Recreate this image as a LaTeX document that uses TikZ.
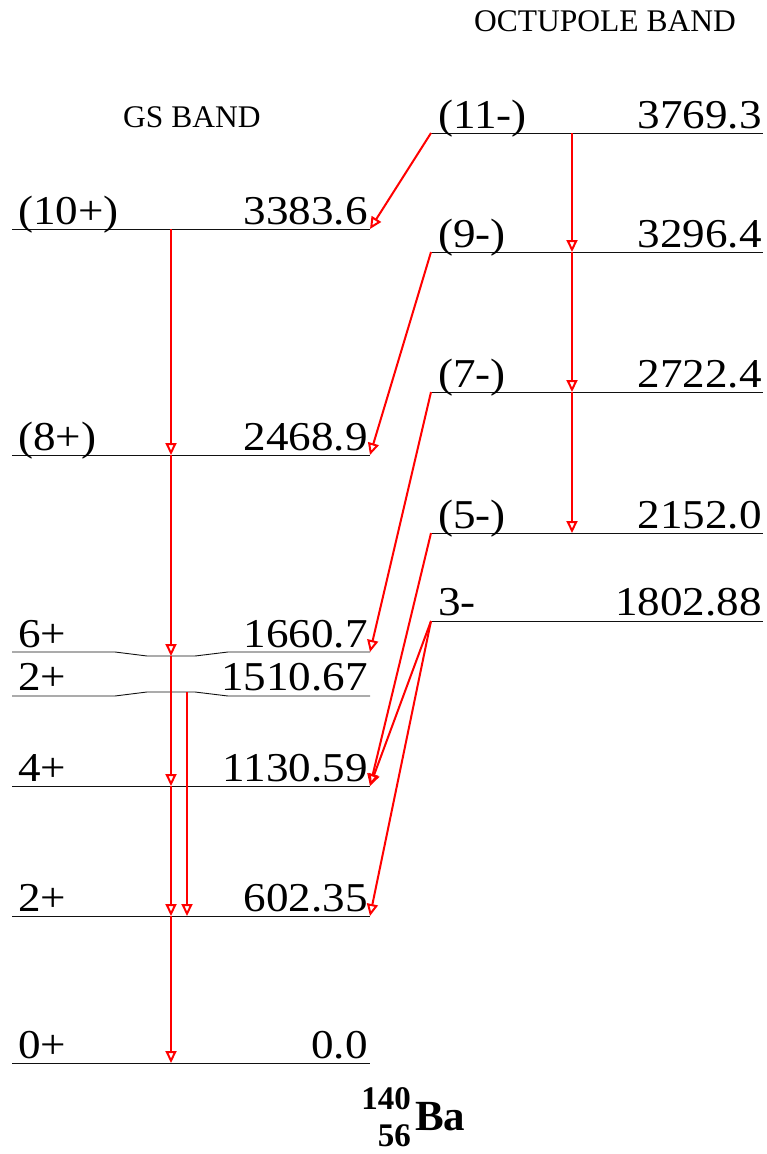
\documentclass[tikz,border=0pt]{standalone}
\usepackage{fontspec}
\setmainfont{Liberation Serif}
\newfontfamily\lvlfont[FakeStretch=1.1]{Liberation Serif}
\usetikzlibrary{arrows.meta}
\definecolor{Gamma}{HTML}{FF0000}
\definecolor{Level}{HTML}{111111}

\begin{document}
\begin{tikzpicture}[x=1pt,y=-1pt,
    lvl/.style={line width=.9pt,Level,line join=round},
    spin/.style={inner sep=0pt,anchor=base west,font=\lvlfont\fontsize{41}{41}\selectfont},
    ener/.style={inner sep=0pt,anchor=base east,font=\lvlfont\fontsize{41}{41}\selectfont},
    band/.style={inner sep=0pt,anchor=base west,font=\fontsize{31.5}{32}\selectfont},
    iso/.style={inner sep=0pt,anchor=base east,font=\bfseries\fontsize{33}{33}\selectfont},
    gam/.style={Gamma,line width=2pt,-{Triangle[open,length=12pt,width=11pt]}}]
        \useasboundingbox(0,0)rectangle(766,1154);
        % band titles
        \node[band](gsb)at(123,127){GS BAND};
        \node[band](ocb)at(474,31){OCTUPOLE BAND};
        % ground state band levels
        \draw[lvl](12,229)--(370,229);
        \draw[lvl](12,455)--(370,455);
        \draw[lvl](12,652)--(115,652)--(147,656)--(195,656)--(228,652)--(370,652);
        \draw[lvl](12,696)--(115,696)--(147,692)--(195,692)--(228,696)--(370,696);
        \draw[lvl](12,786)--(370,786);
        \draw[lvl](12,916)--(370,916);
        \draw[lvl](12,1063)--(370,1063);
        \node[spin](s10)at(18,224){(10+)};  \node[ener](e10)at(368,224){3383.6};
        \node[spin](s8)at(18,450){(8+)};    \node[ener](e8)at(368,450){2468.9};
        \node[spin](s6)at(18,647){6+};      \node[ener](e6)at(368,647){1660.7};
        \node[spin](s2b)at(18,690){2+};     \node[ener](e2b)at(368,690){1510.67};
        \node[spin](s4)at(18,781){4+};      \node[ener](e4)at(368,781){1130.59};
        \node[spin](s2)at(18,911){2+};      \node[ener](e2)at(368,911){602.35};
        \node[spin](s0)at(18,1058){0+};     \node[ener](e0)at(368,1058){0.0};
        % octupole band levels
        \draw[lvl](431,133)--(763,133);
        \draw[lvl](431,252)--(763,252);
        \draw[lvl](431,392)--(763,392);
        \draw[lvl](431,533)--(763,533);
        \draw[lvl](431,621)--(763,621);
        \node[spin](s11)at(438,128){(11-)}; \node[ener](e11)at(762,128){3769.3};
        \node[spin](s9)at(438,247){(9-)};   \node[ener](e9)at(762,247){3296.4};
        \node[spin](s7)at(438,387){(7-)};   \node[ener](e7)at(762,387){2722.4};
        \node[spin](s5)at(438,528){(5-)};   \node[ener](e5)at(762,528){2152.0};
        \node[spin](s3)at(438,615){3-};     \node[ener](e3)at(762,615){1802.88};
        % transition points
        \coordinate(g10)at(171,229);\coordinate(g8)at(171,455);\coordinate(g6)at(171,656);
        \coordinate(g4)at(171,786);\coordinate(g2)at(171,916);\coordinate(g0)at(171,1063);
        \coordinate(h2b)at(187,692);\coordinate(h2)at(187,916);
        \coordinate(o11)at(572,133);\coordinate(o9)at(572,252);\coordinate(o7)at(572,392);\coordinate(o5)at(572,533);
        \coordinate(r10)at(370,229);\coordinate(r8)at(370,455);\coordinate(r6)at(370,652);
        \coordinate(r4)at(370,786);\coordinate(r2)at(370,916);
        \coordinate(l11)at(431,133);\coordinate(l9)at(431,252);\coordinate(l7)at(431,392);
        \coordinate(l5)at(431,533);\coordinate(l3)at(431,621);
        % in-band transitions
        \draw[gam](g10)--(g8);\draw[gam](g8)--(g6);\draw[gam](g6)--(g4);
        \draw[gam](g4)--(g2);\draw[gam](g2)--(g0);
        \draw[gam](h2b)--(h2);
        \draw[gam](o11)--(o9);\draw[gam](o9)--(o7);\draw[gam](o7)--(o5);
        % interband transitions
        \draw[gam](l11)--(r10);\draw[gam](l9)--(r8);\draw[gam](l7)--(r6);
        \draw[gam](l5)--(r4);\draw[gam](l3)--(r4);\draw[gam](l3)--(r2);
        % nucleus
        \node[inner sep=0pt,anchor=base west,font=\bfseries\fontsize{43}{43}\selectfont](ba)at(415,1130){Ba};
        \node[iso](ma)at(411,1109){140};
        \node[iso](zn)at(411,1146){56};
      \end{tikzpicture}
\end{document}
